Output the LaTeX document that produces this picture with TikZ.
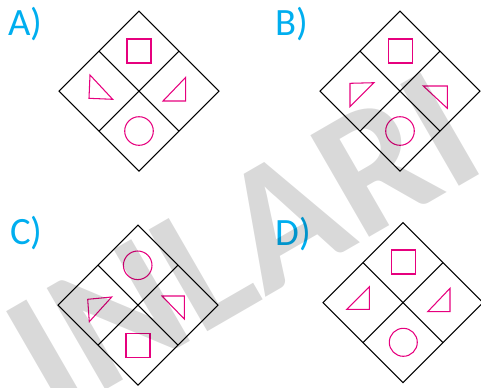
\documentclass[tikz,border=0pt]{standalone}
\usepackage{fontspec}
\setmainfont{Carlito}
\usetikzlibrary{calc}
\definecolor{optcyan}{HTML}{00AEEF}
\definecolor{figmagenta}{HTML}{E6007E}

\begin{document}
\begin{tikzpicture}[x=0.02cm,y=-0.02cm,
  grid/.style={draw=black,line width=0.6pt,line join=miter},
  glyph/.style={draw=figmagenta,line width=0.6pt},
  optlabel/.style={anchor=base west,inner sep=0pt,text=optcyan,
                   font=\fontsize{22}{24}\selectfont},
  wmark/.style={anchor=base west,inner sep=0pt,rotate=30,text=black,
                opacity=0.15,font=\fontsize{103}{103}\selectfont\bfseries}
]
  \useasboundingbox (0,0) rectangle (481,387);

  % ---- Option A ------------------------------------------------
  \node[optlabel] (labA) at (8,35) {A)};
  \draw[grid] (139,11) -- (219,91) -- (139,171) -- (59,91) -- cycle;
  \draw[grid] (99,51) -- (179,131);
  \draw[grid] (179,51) -- (99,131);
  \draw[glyph] (127,39) rectangle (151,63);
  \draw[glyph] (139,131) circle[radius=0.286cm];
  \draw[glyph] (90,75) -- (89,98.3) -- (112.7,99.3) -- cycle;
  \draw[glyph] (185.7,77.3) -- (185.7,101) -- (163,101) -- cycle;

  % ---- Option B ------------------------------------------------
  \node[optlabel] (labB) at (275,35) {B)};
  \draw[grid] (400,11) -- (480,91) -- (400,171) -- (320,91) -- cycle;
  \draw[grid] (360,51) -- (440,131);
  \draw[grid] (440,51) -- (360,131);
  \draw[glyph] (388.3,39) rectangle (412.3,63);
  \draw[glyph] (400,131) circle[radius=0.286cm];
  \draw[glyph] (350,83.3) -- (374,82.7) -- (350,106.7) -- cycle;
  \draw[glyph] (423.3,86) -- (447.3,86) -- (447.3,108.3) -- cycle;

  % ---- Option C ------------------------------------------------
  \node[optlabel] (labC) at (10,244) {C)};
  \draw[grid] (138,225) -- (218,305) -- (138,385) -- (58,305) -- cycle;
  \draw[grid] (98,265) -- (178,345);
  \draw[grid] (178,265) -- (98,345);
  \draw[glyph] (137.7,265.3) circle[radius=0.286cm];
  \draw[glyph] (126,333.3) rectangle (150,357.3);
  \draw[glyph] (87.7,299.3) -- (111.7,297) -- (89.3,321.7) -- cycle;
  \draw[glyph] (162,296) -- (184.3,296) -- (184.3,319) -- cycle;

  % ---- Option D ------------------------------------------------
  \node[optlabel] (labD) at (275,245) {D)};
  \draw[grid] (403,222.5) -- (483,302.5) -- (403,382.5) -- (323,302.5) -- cycle;
  \draw[grid] (363,262.5) -- (443,342.5);
  \draw[grid] (443,262.5) -- (363,342.5);
  \draw[glyph] (391.7,250) rectangle (415.7,274);
  \draw[glyph] (403.3,342.3) circle[radius=0.28cm];
  \draw[glyph] (346.7,309.3) -- (369.3,286.7) -- (369.3,309.3) -- cycle;
  \draw[glyph] (427.7,311.7) -- (450,288.3) -- (450,311.7) -- cycle;

  % ---- Watermark -----------------------------------------------
  \node[wmark] (mark) at (54,420) {INLARI};

\end{tikzpicture}
\end{document}
